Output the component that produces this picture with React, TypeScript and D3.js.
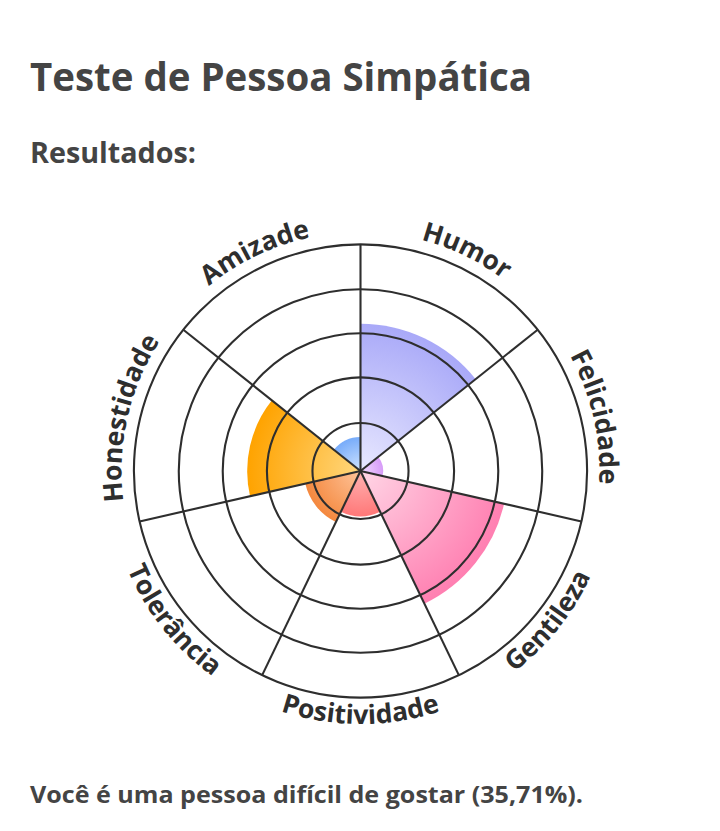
import React from 'react';
import * as d3 from 'd3';

const title = 'Teste de Pessoa Simpática';
const subtitle = 'Resultados:';
const footer = 'Você é uma pessoa difícil de gostar (35,71%).';

const categories = ['Humor', 'Felicidade', 'Gentileza', 'Positividade', 'Tolerância', 'Honestidade', 'Amizade'];
const values = [65, 10, 65, 20, 25, 50, 15];
const ringTicks = [21.2, 41.3, 60.8, 80.2, 100];
const innerColors = ['#e8e8ff', '#f2dcff', '#ffd6e6', '#ffb3b3', '#ffc49a', '#ffd77e', '#cfe4ff'];
const outerColors = ['#a9a9f8', '#d79cf8', '#ff7fb1', '#ff7878', '#f4883e', '#ffa300', '#78acfa'];

const W = 720;
const H = 831;
const CX = 360.5;
const CY = 471;
const R = 226.6;

export default function App() {
  const rScale = d3.scaleLinear().domain([0, 100]).range([0, R]);
  const aScale = d3.scaleLinear().domain([0, categories.length]).range([0, 2 * Math.PI]);
  const arc = d3.arc<any>();
  const pt = (r: number, a: number) => [r * Math.sin(a), -r * Math.cos(a)];

  const topR = 239;
  const botR = 253;

  return (
    <svg width={W} height={H} style={{ position: 'absolute', left: 0, top: 0, background: '#fff' }}
      fontFamily="'Open Sans', sans-serif">
      <defs>
        {categories.map((c, i) => (
          <radialGradient key={c} id={`g${i}`} gradientUnits="userSpaceOnUse" cx={0} cy={0} r={rScale(values[i])}>
            <stop offset="0%" stopColor={innerColors[i]} />
            <stop offset="100%" stopColor={outerColors[i]} />
          </radialGradient>
        ))}
      </defs>
      <text x={30} y={91} fontSize={40} fontWeight={700} fill="#444" textLength={502} lengthAdjust="spacingAndGlyphs">{title}</text>
      <text x={30} y={163} fontSize={29} fontWeight={700} fill="#444" textLength={166} lengthAdjust="spacingAndGlyphs">{subtitle}</text>
      <text x={30} y={803} fontSize={24} fontWeight={700} fill="#444" textLength={553} lengthAdjust="spacingAndGlyphs">{footer}</text>
      <g transform={`translate(${CX},${CY})`}>
        <defs>
          {categories.map((c, i) => {
            const a0 = aScale(i);
            const a1 = aScale(i + 1);
            const mid = (a0 + a1) / 2;
            const bottom = mid > Math.PI / 2 && mid < (3 * Math.PI) / 2;
            let d;
            if (bottom) {
              const p1 = pt(botR, a1);
              const p0 = pt(botR, a0);
              d = `M${p1[0]},${p1[1]} A${botR},${botR} 0 0 0 ${p0[0]},${p0[1]}`;
            } else {
              const p0 = pt(topR, a0);
              const p1 = pt(topR, a1);
              d = `M${p0[0]},${p0[1]} A${topR},${topR} 0 0 1 ${p1[0]},${p1[1]}`;
            }
            return <path key={c} id={`lp${i}`} d={d} fill="none" />;
          })}
        </defs>
        {categories.map((c, i) => (
          <path key={c}
            d={arc({ innerRadius: 0, outerRadius: rScale(values[i]), startAngle: aScale(i), endAngle: aScale(i + 1) }) as string}
            fill={`url(#g${i})`} />
        ))}
        {ringTicks.map((t) => (
          <circle key={t} r={rScale(t)} fill="none" stroke="#2e2e2e" strokeWidth={2.1} />
        ))}
        {categories.map((c, i) => {
          const p = pt(R, aScale(i));
          return <line key={c} x1={0} y1={0} x2={p[0]} y2={p[1]} stroke="#2e2e2e" strokeWidth={2.1} />;
        })}
        {categories.map((c, i) => (
          <text key={c} fontSize={26.5} fontWeight={700} fill="#2e2e2e">
            <textPath href={`#lp${i}`} startOffset="50%" textAnchor="middle">{c}</textPath>
          </text>
        ))}
      </g>
    </svg>
  );
}
